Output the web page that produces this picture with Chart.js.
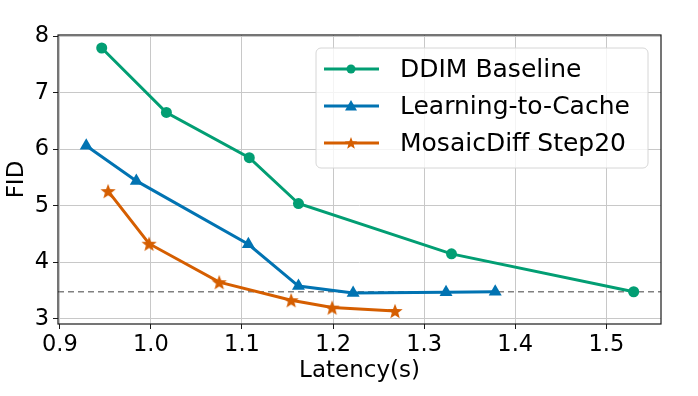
<!DOCTYPE html>
<html>
<head>
<meta charset="utf-8">
<script src="https://cdn.jsdelivr.net/npm/chart.js@4/dist/chart.umd.min.js"></script>
<style>
  html, body { margin: 0; padding: 0; background: #fff; }
</style>
</head>
<body>
<canvas id="fid" width="698" height="396"></canvas>
<script>
const ddimLatency = [0.946, 1.017, 1.108, 1.162, 1.330, 1.530];
const ddimFid = [7.79, 6.65, 5.85, 5.04, 4.15, 3.48];
const l2cLatency = [0.929, 0.984, 1.107, 1.162, 1.222, 1.324, 1.378];
const l2cFid = [6.06, 5.44, 4.32, 3.58, 3.46, 3.47, 3.48];
const mosaicLatency = [0.953, 0.998, 1.075, 1.154, 1.199, 1.268];
const mosaicFid = [5.26, 4.33, 3.65, 3.33, 3.20, 3.14];
const refFid = 3.48;
const xTicks = [0.9, 1.0, 1.1, 1.2, 1.3, 1.4, 1.5];
const yTicks = [3, 4, 5, 6, 7, 8];

const green = '#029e73';
const blue = '#0173b2';
const orange = '#d55e00';
const FONT = 'DejaVu Sans';
const INK = '#000';

function pts(xs, ys) {
  return xs.map((x, i) => ({ x: x, y: ys[i] }));
}

function starPath(ctx, cx, cy, r) {
  ctx.beginPath();
  for (let i = 0; i < 10; i++) {
    const rr = i % 2 === 0 ? r : r * 0.42;
    const a = -Math.PI / 2 + i * Math.PI / 5;
    const px = cx + rr * Math.cos(a), py = cy + rr * Math.sin(a);
    if (i === 0) ctx.moveTo(px, py); else ctx.lineTo(px, py);
  }
  ctx.closePath();
}

function makeStar(r, color) {
  const c = document.createElement('canvas');
  const s = Math.ceil(r * 2 + 2);
  c.width = s; c.height = s;
  const g = c.getContext('2d');
  g.fillStyle = color;
  starPath(g, s / 2, s / 2 + 0.8, r);
  g.fill();
  return c;
}

const starImg = makeStar(8, orange);

const extras = {
  id: 'extras',
  beforeDatasetsDraw(chart) {
    const { ctx, chartArea: a, scales } = chart;
    const y = scales.y.getPixelForValue(refFid);
    ctx.save();
    ctx.strokeStyle = '#808080';
    ctx.lineWidth = 1.5;
    ctx.setLineDash([6, 4]);
    ctx.beginPath();
    ctx.moveTo(a.left, y);
    ctx.lineTo(a.right, y);
    ctx.stroke();
    ctx.setLineDash([]);
    ctx.strokeStyle = '#1a1a1a';
    ctx.lineWidth = 1.2;
    ctx.strokeRect(a.left, a.top, a.right - a.left, a.bottom - a.top);
    ctx.restore();
  },
  afterDraw(chart) {
    const ctx = chart.ctx;
    const bx = 316, by = 48, bw = 332, bh = 120;
    ctx.save();
    ctx.beginPath();
    ctx.roundRect(bx, by, bw, bh, 5);
    ctx.fillStyle = 'rgba(255,255,255,0.8)';
    ctx.fill();
    ctx.strokeStyle = '#d6d6d6';
    ctx.lineWidth = 1;
    ctx.stroke();
    const rows = [69, 106, 143];
    chart.data.datasets.forEach((ds, i) => {
      const ry = rows[i];
      ctx.strokeStyle = ds.borderColor;
      ctx.fillStyle = ds.borderColor;
      ctx.lineWidth = 3;
      ctx.beginPath();
      ctx.moveTo(324, ry);
      ctx.lineTo(379, ry);
      ctx.stroke();
      if (i === 0) {
        ctx.beginPath();
        ctx.arc(351, ry, 4.5, 0, Math.PI * 2);
        ctx.fill();
      } else if (i === 1) {
        ctx.beginPath();
        ctx.moveTo(351, ry - 6);
        ctx.lineTo(357, ry + 4.5);
        ctx.lineTo(345, ry + 4.5);
        ctx.closePath();
        ctx.fill();
      } else {
        starPath(ctx, 351, ry + 0.5, 6.5);
        ctx.fill();
      }
      ctx.fillStyle = INK;
      ctx.font = '25px "' + FONT + '"';
      ctx.textBaseline = 'middle';
      ctx.textAlign = 'left';
      ctx.fillText(ds.label, 400, ry + 1);
    });
    ctx.restore();
  }
};

new Chart(document.getElementById('fid'), {
  type: 'line',
  data: {
    datasets: [
      {
        label: 'DDIM Baseline',
        data: pts(ddimLatency, ddimFid),
        borderColor: green,
        backgroundColor: green,
        borderWidth: 3,
        pointStyle: 'circle',
        pointRadius: 5.5,
        pointBorderWidth: 0
      },
      {
        label: 'Learning-to-Cache',
        data: pts(l2cLatency, l2cFid),
        borderColor: blue,
        backgroundColor: blue,
        borderWidth: 3,
        pointStyle: 'triangle',
        pointRadius: 7.5,
        pointBorderWidth: 0
      },
      {
        label: 'MosaicDiff Step20',
        data: pts(mosaicLatency, mosaicFid),
        borderColor: orange,
        backgroundColor: orange,
        borderWidth: 3,
        pointStyle: starImg,
        pointRadius: 8
      }
    ]
  },
  options: {
    responsive: false,
    animation: false,
    devicePixelRatio: 1,
    layout: { padding: { top: 35, right: 37, bottom: 0, left: 0 } },
    plugins: {
      legend: { display: false },
      tooltip: { enabled: false }
    },
    scales: {
      x: {
        type: 'linear',
        min: 0.898,
        max: 1.56,
        afterBuildTicks: s => { s.ticks = xTicks.map(v => ({ value: v })); },
        afterFit: s => { s.height = 72; },
        border: { display: false },
        grid: { color: '#c8c8c8', lineWidth: 1, tickColor: '#1a1a1a', tickLength: 5 },
        ticks: {
          color: INK,
          font: { family: FONT, size: 22.5 },
          padding: 3,
          maxRotation: 0,
          callback: v => v.toFixed(1)
        },
        title: {
          display: true,
          text: 'Latency(s)',
          color: INK,
          font: { family: FONT, size: 23 },
          padding: { top: 0, bottom: 11 }
        }
      },
      y: {
        min: 2.91,
        max: 8.02,
        afterBuildTicks: s => { s.ticks = yTicks.map(v => ({ value: v })); },
        afterFit: s => { s.width = 58; },
        border: { display: false },
        grid: { color: '#c8c8c8', lineWidth: 1, tickColor: '#1a1a1a', tickLength: 5 },
        ticks: {
          color: INK,
          font: { family: FONT, size: 22.5 },
          padding: 4,
          callback: v => String(v)
        },
        title: {
          display: true,
          text: 'FID',
          color: INK,
          font: { family: FONT, size: 23 },
          padding: { top: 3, bottom: 0 }
        }
      }
    }
  },
  plugins: [extras]
});
</script>
</body>
</html>
